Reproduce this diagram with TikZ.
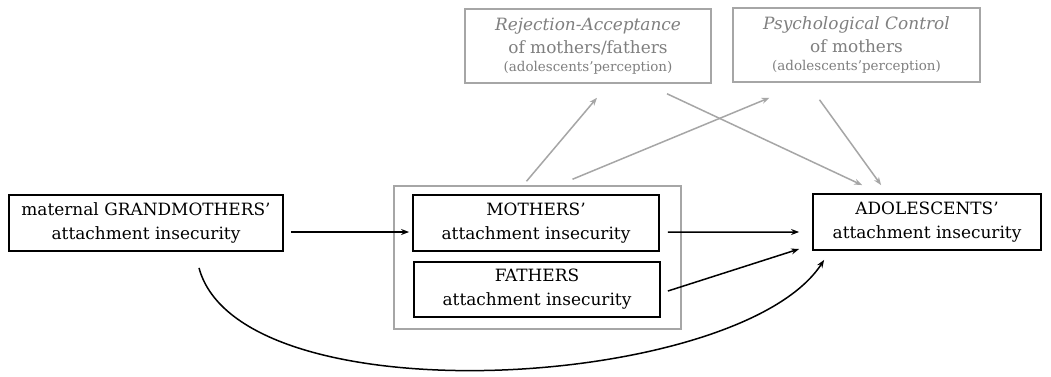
\documentclass[tikz,border=0pt]{standalone}
\usepackage{fontspec}
\setmainfont{DejaVu Serif}
\usetikzlibrary{arrows.meta,calc}
\definecolor{gline}{HTML}{A6A6A6}
\definecolor{gtext}{HTML}{7F7F7F}
\begin{document}
\begin{tikzpicture}[x=1bp,y=-1bp,
  bbox/.style={draw=black,line width=1.8bp,align=center,inner sep=0pt,
    font=\fontsize{17}{24}\selectfont},
  gbox/.style={draw=gline,line width=1.5bp,align=center,inner sep=0pt,text=gtext,
    font=\fontsize{17}{23}\selectfont},
  barrow/.style={line width=1.5bp,-{Stealth[length=8bp,width=6bp]}},
  garrow/.style={draw=gline,line width=1.5bp,-{Stealth[length=8bp,width=6bp]}}]
\useasboundingbox (0,0) rectangle (1051,376);
\fill[white] (0,0) rectangle (1051,376);
% outer grey group box
\node[draw=gline,line width=1.5bp,minimum width=287bp,minimum height=143bp,inner sep=0pt] (grp) at (537.5,257.5) {};
\node[bbox,minimum width=274bp,minimum height=56bp] (g) at (146,223) {maternal GRANDMOTHERS’\\attachment insecurity};
\node[bbox,minimum width=246bp,minimum height=56bp] (m) at (536,223) {MOTHERS’\\attachment insecurity};
\node[bbox,minimum width=246bp,minimum height=55bp] (f) at (537,289.5) {FATHERS\\attachment insecurity};
\node[bbox,minimum width=228bp,minimum height=56bp] (a) at (927,222) {ADOLESCENTS’\\attachment insecurity};
\node[gbox,minimum width=246bp,minimum height=74bp] (ra) at (588,46) {\textit{Rejection-Acceptance}\\of mothers/fathers\\[-5bp]{\fontsize{13.5}{16}\selectfont (adolescents’perception)}};
\node[gbox,minimum width=247bp,minimum height=74bp] (pc) at (856.5,45) {\textit{Psychological Control}\\of mothers\\[-5bp]{\fontsize{13.5}{16}\selectfont (adolescents’perception)}};
% black arrows
\draw[barrow] ([xshift=7bp,yshift=-9bp]g.east) -- ([xshift=-3bp,yshift=-9bp]m.west);
\draw[barrow] ([xshift=8bp,yshift=-9bp]m.east) -- ([xshift=-13bp,yshift=-10bp]a.west);
\draw[barrow] ([xshift=7bp,yshift=-1.5bp]f.east) -- ([xshift=-13bp,yshift=-27bp]a.west);
\coordinate (cs) at ([xshift=53bp,yshift=-16bp]g.south);
\coordinate (ce) at ([xshift=12bp,yshift=-9bp]a.south west);
\draw[barrow] (cs) .. controls (240,420) and (740,390) .. (ce);
% grey arrows
\draw[garrow] ([xshift=-11bp,yshift=4bp]grp.north) -- ([xshift=9bp,yshift=-14bp]ra.south);
\draw[garrow] ([xshift=35bp,yshift=6bp]grp.north) -- ([xshift=-87bp,yshift=-15bp]pc.south);
\draw[garrow] ([xshift=79bp,yshift=-10bp]ra.south) -- ([xshift=50bp,yshift=8bp]a.north west);
\draw[garrow] ([xshift=-37bp,yshift=-17bp]pc.south) -- ([xshift=69bp,yshift=8bp]a.north west);
\end{tikzpicture}
\end{document}
